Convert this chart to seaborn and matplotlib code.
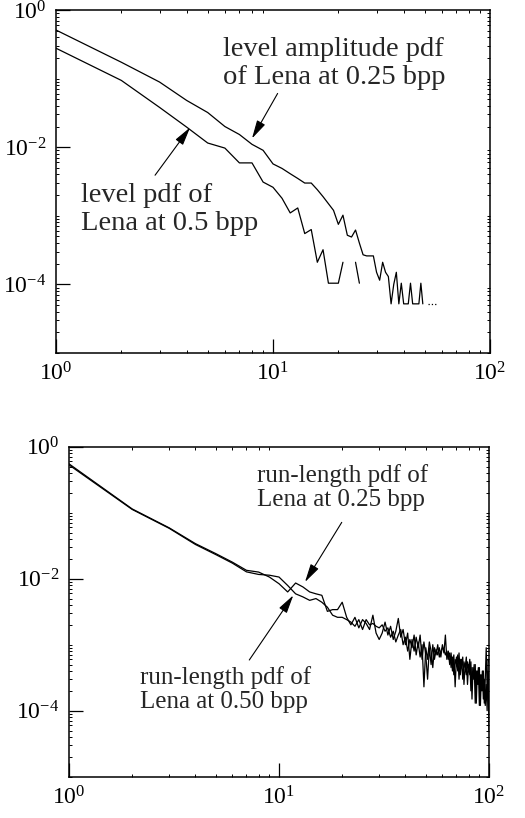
import matplotlib
matplotlib.use('Agg')
import matplotlib.pyplot as plt
import seaborn as sns
import pandas as pd
import numpy as np
from matplotlib.ticker import LogLocator, NullFormatter

# ---- data: upper panel (level pdfs) ----
amp_x = list(range(1, 50))
amp_pdf = [0.51, 0.173, 0.089, 0.048, 0.032, 0.020, 0.0153, 0.011, 0.0090, 0.0057,
           0.0049, 0.0041, 0.0035, 0.0030, 0.0030, 0.0024, 0.0019, 0.0015, 0.0012, 0.00075,
           0.00102, 0.00052, 0.00049, 0.00062, 0.00040, 0.00027, 0.00026, 0.00026, 0.00026, 0.00015,
           0.000115, 0.00021, 0.00015, 0.00013, 5.2e-5, 0.0001, 0.00015, 5.2e-5, 0.000104, 5.2e-5,
           5.2e-5, 5.2e-5, 0.000104, 5.2e-5, 5.2e-5, 5.2e-5, 5.2e-5, 0.000104, 5.2e-5]
amp_tail_x = [52, 53, 54, 55, 56, 57]
amp_tail_pdf = [5.2e-5, 5.2e-5, 5.2e-5, 5.2e-5, 5.2e-5, 5.2e-5]

lev_x = list(range(1, 26))
lev_pdf = [0.277, 0.094, 0.038, 0.0196, 0.0115, 0.0097, 0.0059, 0.0059, 0.0031, 0.0026,
           0.0018, 0.0011, 0.0013, 0.00055, 0.00063, 0.00021, 0.00032, 0.000104, 0.000104, 0.000104,
           0.00021, np.nan, np.nan, 0.00021, 0.000104]

# ---- data: lower panel (run-length pdfs) ----
run_x = list(range(1, 101))
run_025 = [0.55, 0.114, 0.059, 0.034, 0.024, 0.0178, 0.0134, 0.0126, 0.0106, 0.0084,
           0.0063, 0.0086, 0.0075, 0.0063, 0.0059, 0.0056, 0.0032, 0.0034, 0.0034, 0.0044,
           0.0026, 0.0020, 0.0026, 0.0018, 0.0024, 0.0021, 0.0017, 0.0028, 0.0015, 0.0012,
           1.5e-3, 2.2e-3, 1.4e-3, 1.9e-3, 1.2e-3, 1.6e-3, 2.5e-3, 1.3e-3, 1.7e-3, 1.0e-3,
           1.5e-3, 6.0e-4, 1.2e-3, 8.0e-4, 1.3e-3, 9.0e-4, 1.4e-3, 6.0e-4, 1.1e-3, 7.0e-4,
           3.0e-4, 9.0e-4, 5.0e-4, 1.0e-3, 6.0e-4, 8.5e-4, 7.0e-4, 9.0e-4, 6.5e-4, 1.0e-3,
           7.5e-4, 1.4e-3, 6.0e-4, 8.0e-4, 5.0e-4, 7.5e-4, 4.0e-4, 7.0e-4, 2.3e-4, 6.5e-4,
           4.0e-4, 7.5e-4, 3.5e-4, 6.0e-4, 3.0e-4, 5.5e-4, 4.5e-4, 6.5e-4, 2.5e-4, 5.0e-4,
           3.5e-4, 5.5e-4, 1.5e-4, 4.5e-4, 3.0e-4, 5.0e-4, 1.3e-4, 4.0e-4, 2.5e-4, 4.5e-4,
           1.2e-4, 3.5e-4, 2.0e-4, 4.0e-4, 1.3e-4, 3.0e-4, 9.0e-4, 2.0e-4, 4.0e-4, 5.0e-5]
run_050 = [0.53, 0.112, 0.058, 0.033, 0.0232, 0.0172, 0.0127, 0.0116, 0.0113, 0.0106,
           0.0079, 0.0059, 0.0053, 0.0047, 0.0050, 0.0044, 0.0037, 0.0028, 0.0026, 0.0026,
           0.0024, 0.0022, 0.0019, 0.0024, 0.0017, 0.0024, 0.0020, 0.0021, 0.0019, 0.0018,
           2.0e-3, 1.6e-3, 1.8e-3, 1.3e-3, 1.6e-3, 1.1e-3, 1.4e-3, 1.7e-3, 1.0e-3, 1.3e-3,
           8.0e-4, 1.2e-3, 9.0e-4, 1.4e-3, 7.0e-4, 1.1e-3, 6.5e-4, 1.0e-3, 2.3e-4, 9.0e-4,
           6.0e-4, 1.1e-3, 8.0e-4, 4.5e-4, 9.0e-4, 7.0e-4, 1.0e-3, 6.5e-4, 8.0e-4, 9.0e-4,
           8.5e-4, 7.0e-4, 8.0e-4, 6.0e-4, 7.5e-4, 4.5e-4, 6.5e-4, 3.5e-4, 6.0e-4, 5.0e-4,
           7.0e-4, 3.0e-4, 6.0e-4, 4.5e-4, 6.5e-4, 2.5e-4, 5.0e-4, 3.5e-4, 5.5e-4, 4.0e-4,
           6.0e-4, 2.0e-4, 4.5e-4, 3.0e-4, 5.0e-4, 1.3e-4, 4.0e-4, 2.5e-4, 4.5e-4, 1.2e-4,
           3.5e-4, 2.0e-4, 4.0e-4, 1.5e-4, 3.0e-4, 1.2e-4, 2.5e-4, 1.0e-4, 6.0e-4, 5.5e-4]

X_TICKS = [1, 10, 100]
X_LABELS = [r'$\mathregular{10^{0}}$', r'$\mathregular{10^{1}}$', r'$\mathregular{10^{2}}$']
Y_TICKS = [1e-4, 1e-2, 1]
Y_LABELS = [r'$\mathregular{10^{-4}}$', r'$\mathregular{10^{-2}}$', r'$\mathregular{10^{0}}$']

sns.set_theme(style='ticks')
plt.rcParams['font.family'] = ['Liberation Serif', 'DejaVu Serif']
plt.rcParams['mathtext.fontset'] = 'custom'
plt.rcParams['mathtext.rm'] = 'Liberation Serif'
plt.rcParams['axes.edgecolor'] = 'black'
plt.rcParams['xtick.color'] = 'black'
plt.rcParams['ytick.color'] = 'black'


def draw(ax, x, y, **kw):
    # NaN breaks the curve into separate segments (units)
    df = pd.DataFrame({'x': x, 'y': y})
    df['seg'] = df['y'].isna().cumsum()
    df = df.dropna()
    sns.lineplot(data=df, x='x', y='y', units='seg', estimator=None, sort=False,
                 color='black', lw=0.9, ax=ax, **kw)


def style_axes(ax):
    ax.set_xscale('log')
    ax.set_yscale('log')
    ax.set_xlim(1, 100)
    ax.set_ylim(1e-5, 1)
    ax.set_xticks(X_TICKS, labels=X_LABELS)
    ax.set_yticks(Y_TICKS, labels=Y_LABELS)
    ax.xaxis.set_minor_locator(LogLocator(base=10, subs=np.arange(1, 10), numticks=100))
    ax.yaxis.set_minor_locator(LogLocator(base=10, subs=np.arange(1, 10), numticks=100))
    ax.xaxis.set_minor_formatter(NullFormatter())
    ax.yaxis.set_minor_formatter(NullFormatter())
    ax.tick_params(which='major', direction='in', length=10, width=0.9,
                   top=False, right=False, labelsize=17, pad=7)
    ax.tick_params(which='minor', direction='in', length=2.5, width=0.7,
                   top=True, right=True, left=True, bottom=True)
    for s in ax.spines.values():
        s.set_linewidth(1.1)
        s.set_color('black')
    ax.set_xlabel('')
    ax.set_ylabel('')
    ax.grid(False)


arrow = dict(arrowstyle='-|>,head_length=0.8,head_width=0.2', color='black',
             lw=0.8, mutation_scale=14, shrinkA=0, shrinkB=0)

fig = plt.figure(figsize=(5.25, 8.18), dpi=100)
ax1 = fig.add_axes([0.1067, 0.5685, 0.8267, 0.4193])
ax2 = fig.add_axes([0.1314, 0.0505, 0.80, 0.4034])

# upper panel (text y = baseline of the last line)
draw(ax1, amp_x, amp_pdf)
draw(ax1, amp_tail_x, amp_tail_pdf, linestyle=':')
draw(ax1, lev_x, lev_pdf)
style_axes(ax1)
ax1.text(5.86, 0.084, 'level amplitude pdf\nof Lena at 0.25 bpp', fontsize=20.5,
         ha='left', va='baseline', linespacing=1.15)
ax1.annotate('', xy=(8.0, 0.0134), xytext=(10.5, 0.0607), arrowprops=arrow)
ax1.text(1.31, 6.15e-4, 'level pdf of\nLena at 0.5 bpp', fontsize=20.5,
         ha='left', va='baseline', linespacing=1.15)
ax1.annotate('', xy=(4.15, 0.0194), xytext=(2.86, 0.0039), arrowprops=arrow)

# lower panel
draw(ax2, run_x, run_025)
draw(ax2, run_x, run_050)
style_axes(ax2)
ax2.text(7.86, 0.1276, 'run-length pdf of\nLena at 0.25 bpp', fontsize=18,
         ha='left', va='baseline', linespacing=1.12)
ax2.annotate('', xy=(13.3, 0.0089), xytext=(19.9, 0.0714), arrowprops=arrow)
ax2.text(2.18, 1.09e-4, 'run-length pdf of\nLena at 0.50 bpp', fontsize=18,
         ha='left', va='baseline', linespacing=1.12)
ax2.annotate('', xy=(11.7, 0.0056), xytext=(7.22, 5.86e-4), arrowprops=arrow)

fig.savefig('out.png', dpi=100)
